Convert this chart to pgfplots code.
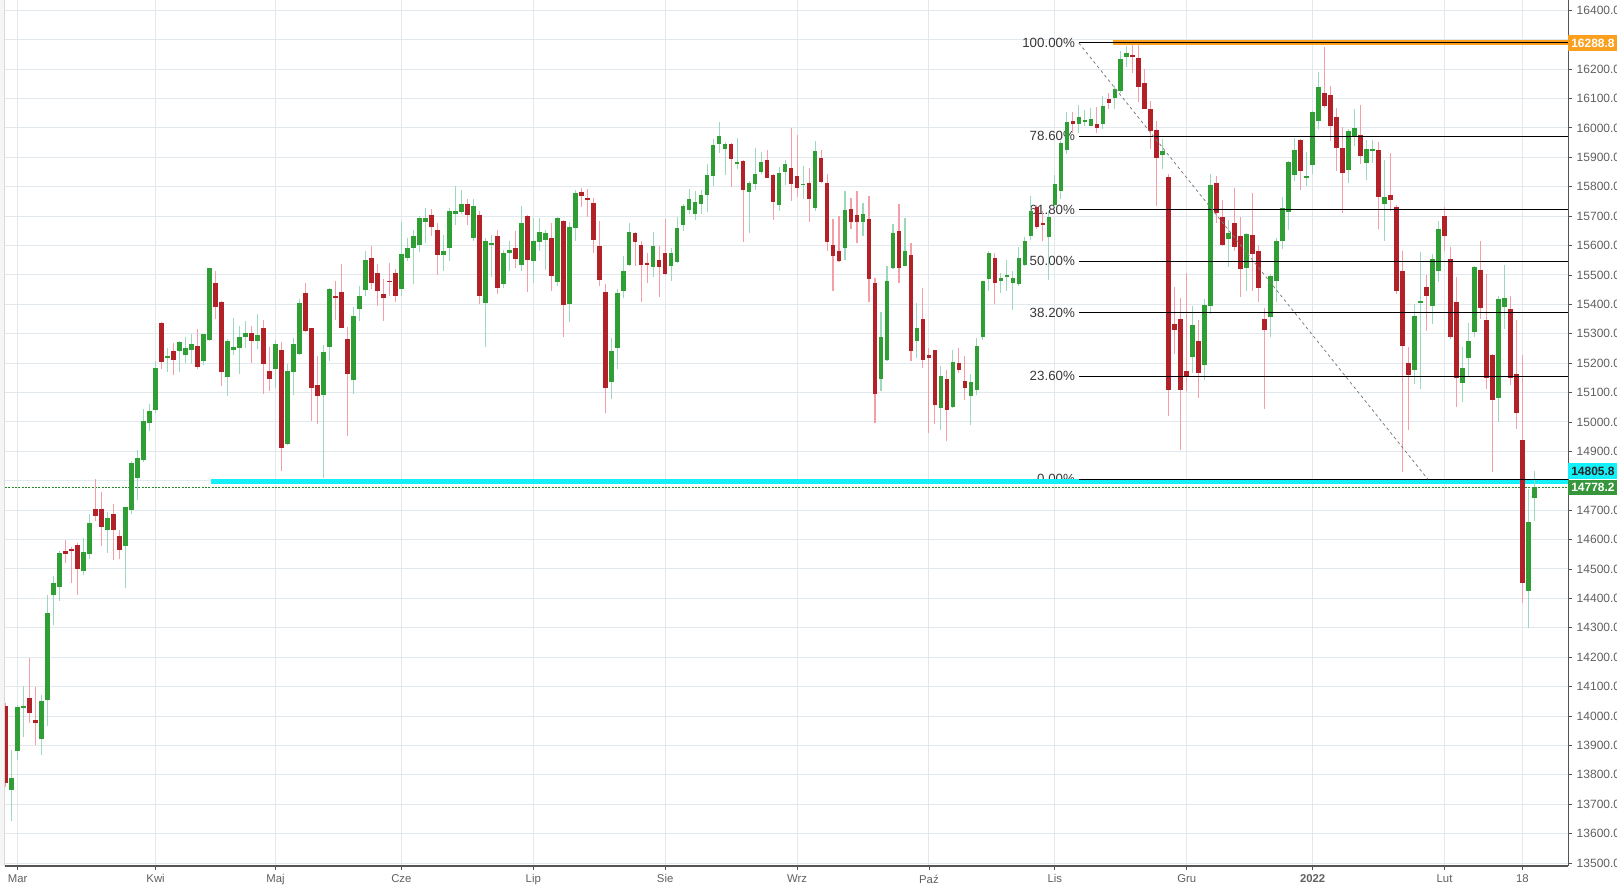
\documentclass[border=0pt]{standalone}
\usepackage{fontspec}
\setmainfont{Liberation Sans}
\usepackage{pgfplots}
\usepackage{pgfplotstable}
\pgfplotsset{compat=1.18}
\definecolor{cgreen}{RGB}{47,158,52}
\definecolor{cred}{RGB}{178,32,40}
\definecolor{wgreen}{RGB}{155,216,188}
\definecolor{wred}{RGB}{245,158,168}
\definecolor{gridc}{RGB}{225,232,238}
\definecolor{corange}{RGB}{250,160,30}
\definecolor{ccyan}{RGB}{20,240,250}
\definecolor{cprice}{RGB}{40,140,40}
\definecolor{cbox}{RGB}{55,150,60}
\definecolor{axc}{RGB}{85,85,85}
\definecolor{labc}{RGB}{95,95,95}
\definecolor{fibtxt}{RGB}{55,55,55}

\pgfplotstableread{
i o h l c
2 13748 13883 13643 13788
3 13880 14037 13849 14031
4 14028 14101 13927 14035
7 13923 14073 13866 14051
8 14056 14412 13965 14352
9 14413 14477 14309 14452
10 14438 14562 14390 14554
14 14494 14605 14478 14558
15 14550 14686 14534 14656
18 14631 14693 14556 14672
21 14578 14712 14434 14710
22 14701 14866 14687 14859
23 14808 14906 14735 14879
24 14870 15045 14863 15004
25 14998 15062 14968 15037
26 15042 15207 15029 15183
28 15218 15253 15170 15224
30 15240 15274 15170 15271
31 15228 15289 15201 15253
32 15245 15298 15198 15264
34 15209 15300 15193 15298
35 15278 15525 15274 15523
38 15152 15281 15089 15274
39 15244 15352 15227 15254
40 15252 15325 15163 15288
41 15289 15342 15252 15301
43 15274 15366 15248 15295
46 15180 15278 15116 15264
48 14926 15196 14923 15172
49 15170 15284 15093 15264
50 15231 15417 15229 15403
54 15092 15261 14808 15237
55 15255 15455 15206 15451
59 15143 15390 15096 15359
60 15384 15461 15342 15427
61 15448 15583 15428 15552
67 15451 15681 15430 15570
68 15559 15624 15546 15590
69 15591 15654 15469 15634
70 15601 15702 15577 15692
71 15679 15729 15608 15692
74 15567 15637 15513 15583
75 15591 15727 15547 15719
76 15706 15804 15669 15719
77 15713 15790 15706 15742
79 15625 15759 15615 15736
81 15404 15624 15255 15617
82 15604 15637 15493 15608
84 15469 15586 15455 15573
85 15573 15617 15513 15586
87 15533 15736 15513 15675
89 15547 15692 15472 15614
90 15611 15692 15580 15647
91 15620 15654 15516 15644
93 15476 15698 15462 15695
95 15401 15681 15340 15664
96 15659 15790 15615 15780
102 15137 15285 15079 15240
103 15252 15451 15181 15437
104 15445 15566 15421 15512
105 15533 15678 15530 15647
109 15526 15647 15493 15600
112 15530 15593 15479 15573
113 15543 15698 15540 15661
114 15669 15742 15648 15735
115 15720 15793 15709 15759
116 15709 15786 15686 15749
117 15740 15790 15706 15773
118 15771 15878 15713 15841
119 15835 15963 15804 15942
120 15946 16020 15915 15973
121 15929 15952 15841 15946
123 15878 15966 15861 15885
125 15783 15820 15644 15813
126 15810 15932 15790 15844
127 15851 15919 15844 15885
130 15739 15868 15718 15847
131 15851 15891 15807 15878
134 15806 15871 15759 15811
136 15729 15956 15718 15922
141 15590 15786 15552 15722
144 15681 15746 15634 15708
147 15146 15373 15105 15288
148 15210 15529 15208 15478
149 15522 15674 15519 15641
151 15532 15695 15529 15580
153 15274 15403 15217 15318
157 15047 15190 14973 15156
159 15051 15244 15049 15203
162 15088 15163 14990 15135
163 15108 15285 15091 15257
164 15288 15481 15278 15478
165 15485 15580 15447 15576
167 15481 15508 15437 15488
168 15495 15552 15444 15501
169 15474 15515 15380 15491
170 15468 15596 15464 15556
171 15534 15630 15530 15615
172 15634 15769 15620 15716
175 15630 15718 15484 15697
176 15738 15840 15731 15810
177 15786 15955 15758 15948
178 15925 16055 15912 16021
180 16013 16079 15984 16038
181 16022 16061 16005 16027
182 16008 16068 16005 16031
184 16014 16109 15995 16075
186 16100 16143 16066 16133
187 16126 16262 16119 16235
188 16242 16279 16208 16256
194 15908 15963 15861 15922
199 15220 15394 15166 15329
201 15193 15418 15142 15398
202 15395 15844 15368 15806
205 15623 15687 15528 15643
208 15525 15644 15446 15639
212 15358 15503 15290 15496
213 15480 15626 15409 15615
214 15617 15765 15589 15728
215 15715 15889 15654 15884
216 15841 15966 15821 15925
218 15831 15918 15804 15837
219 15875 16058 15845 16055
220 16025 16191 15998 16140
225 15858 15997 15814 15990
226 15971 16065 15940 16000
228 15882 15959 15824 15929
229 15920 15959 15882 15929
231 15740 15891 15617 15765
236 15178 15402 15130 15361
237 15405 15578 15113 15410
239 15396 15571 15332 15553
240 15512 15682 15475 15657
244 15134 15255 15069 15184
245 15216 15337 15156 15276
246 15305 15531 15289 15527
250 15083 15430 15001 15419
251 15391 15534 15316 15422
255 14424 14772 14300 14661
256 14741 14834 14663 14778.2
}\greentab

\pgfplotstableread{
i o h l c
1 14034 14045 13760 13772
5 14061 14199 13978 14011
6 13987 14099 13900 13978
11 14562 14599 14519 14552
12 14568 14574 14451 14562
13 14581 14589 14411 14500
16 14703 14805 14664 14681
17 14703 14761 14579 14644
19 14686 14720 14532 14631
20 14612 14632 14535 14565
27 15338 15340 15181 15204
29 15240 15268 15160 15212
33 15257 15316 15181 15187
36 15474 15515 15350 15391
37 15407 15413 15122 15170
42 15301 15325 15201 15274
44 15318 15346 15096 15197
45 15172 15254 15105 15145
47 15244 15271 14833 14912
51 15437 15471 15305 15308
52 15318 15320 15003 15116
53 15125 15223 14993 15089
56 15427 15478 15347 15421
57 15441 15536 15318 15320
58 15281 15322 14952 15163
62 15556 15597 15451 15471
63 15505 15536 15396 15447
64 15434 15485 15342 15420
65 15481 15542 15427 15476
66 15505 15519 15407 15427
72 15705 15726 15632 15662
73 15654 15675 15499 15567
78 15742 15759 15669 15705
80 15705 15719 15400 15428
83 15631 15654 15435 15455
86 15590 15651 15523 15554
88 15702 15705 15442 15550
92 15627 15675 15444 15495
94 15685 15688 15289 15398
97 15783 15797 15730 15767
98 15763 15793 15698 15757
99 15746 15763 15574 15618
100 15597 15685 15462 15482
101 15441 15468 15031 15116
106 15644 15646 15530 15611
107 15603 15617 15408 15533
108 15542 15573 15472 15533
110 15552 15600 15425 15526
111 15573 15691 15499 15503
122 15946 15950 15800 15895
124 15888 15890 15613 15790
128 15891 15925 15828 15830
129 15841 15843 15688 15749
132 15864 16000 15752 15810
133 15837 15976 15766 15796
135 15813 15864 15681 15759
137 15898 15925 15813 15817
138 15813 15844 15583 15611
139 15603 15691 15447 15563
140 15580 15702 15544 15546
142 15725 15763 15657 15681
143 15705 15786 15610 15681
145 15691 15769 15407 15485
146 15471 15488 14996 15095
150 15651 15742 15471 15525
152 15569 15607 15207 15240
154 15349 15454 15183 15210
155 15227 15251 14963 15218
156 15244 15246 14993 15057
158 15146 15176 14935 15040
160 15200 15251 15166 15176
161 15139 15224 15074 15115
166 15556 15576 15400 15471
173 15731 15738 15657 15664
174 15677 15716 15617 15670
179 16024 16055 15984 16015
183 16014 16072 15981 16001
185 16099 16119 16063 16085
189 16249 16288.8 16187 16240
190 16239 16288 16089 16140
191 16153 16201 16063 16065
192 16065 16092 15929 15990
193 15993 16024 15735 15898
195 15833 15844 15020 15108
196 15333 15459 15231 15312
197 15350 15421 14904 15108
198 15173 15506 15105 15152
200 15275 15346 15081 15166
203 15813 15837 15677 15712
204 15697 15755 15600 15603
206 15677 15796 15583 15596
207 15632 15697 15426 15521
209 15636 15779 15446 15572
210 15581 15602 15409 15457
211 15350 15387 15045 15313
217 15959 15963 15790 15852
221 16119 16276 16066 16076
222 16113 16143 15954 16008
223 16038 16068 15852 15933
224 15932 16004 15712 15848
227 15976 16079 15879 15906
230 15925 15953 15657 15766
232 15772 15915 15719 15756
233 15731 15738 15436 15446
234 15513 15581 14830 15259
235 15200 15255 14973 15160
238 15460 15501 15309 15430
241 15702 15731 15582 15631
242 15553 15596 15281 15289
243 15409 15493 15051 15148
247 15517 15614 15351 15389
248 15348 15504 15112 15151
249 15228 15231 14831 15073
252 15384 15430 15124 15151
253 15163 15348 14977 15029
254 14939 15228 14383 14454
}\redtab

\begin{document}
\begin{tikzpicture}
\path[use as bounding box] (-3.75pt,-15.75pt) rectangle (1209pt,649.5pt);
\fill[gray!8] (-3.75pt,0pt) rectangle (0pt,649.5pt);
\draw[gray!30, line width=0.5pt] (-0.3pt,0pt) -- (-0.3pt,649.5pt);
\begin{axis}[
  at={(0pt,0pt)}, anchor=south west,
  scale only axis, width=1172.25pt, height=649.5pt,
  xmin=0.883, xmax=261.6, ymin=13490, ymax=16435,
  axis x line*=bottom, axis y line*=right,
  axis line style={draw=axc, line width=0.8pt, -},
  xtick={3,26,46,67,89,111,133,155,176,198,219,241,254},
  xticklabels={Mar,Kwi,Maj,Cze,Lip,Sie,Wrz,Paź,Lis,Gru,\textbf{2022},Lut,18},
  ytick={13500,13600,13700,13800,13900,14000,14100,14200,14300,14400,14500,14600,14700,14900,15000,15100,15200,15300,15400,15500,15600,15700,15800,15900,16000,16100,16200,16400},
  extra y ticks={14800,16300},
  extra y tick labels={},
  extra y tick style={grid=major, major grid style={draw=gridc, line width=0.75pt}},
  scaled y ticks=false,
  yticklabel style={/pgf/number format/fixed, /pgf/number format/fixed zerofill,
    /pgf/number format/precision=1, /pgf/number format/1000 sep={},
    /pgf/number format/assume math mode=true, font=\fontsize{9}{10}\selectfont},
  xticklabel style={font=\fontsize{8.5}{10}\selectfont},
  tick label style={text=labc},
  tick align=outside, major tick length=3pt,
  tick style={draw=axc, line width=0.6pt},
  grid=major, major grid style={draw=gridc, line width=0.75pt},
  clip=true,
]
% fib labels (under candles)
\node[anchor=east, inner sep=0pt, text=fibtxt, font=\fontsize{10}{12}\selectfont] at (axis cs:179.4,16288.8) {100.00\%};
\node[anchor=east, inner sep=0pt, text=fibtxt, font=\fontsize{10}{12}\selectfont] at (axis cs:179.4,15971.4) {78.60\%};
\node[anchor=east, inner sep=0pt, text=fibtxt, font=\fontsize{10}{12}\selectfont] at (axis cs:179.4,15722.3) {61.80\%};
\node[anchor=east, inner sep=0pt, text=fibtxt, font=\fontsize{10}{12}\selectfont] at (axis cs:179.4,15547.3) {50.00\%};
\node[anchor=east, inner sep=0pt, text=fibtxt, font=\fontsize{10}{12}\selectfont] at (axis cs:179.4,15372.3) {38.20\%};
\node[anchor=east, inner sep=0pt, text=fibtxt, font=\fontsize{10}{12}\selectfont] at (axis cs:179.4,15155.8) {23.60\%};
\node[anchor=east, inner sep=0pt, text=fibtxt, font=\fontsize{10}{12}\selectfont] at (axis cs:179.4,14805.8) {0.00\%};

% current price dotted line
\addplot[cprice, line width=0.7pt, dash pattern=on 1.5pt off 1pt, forget plot] coordinates {(0.883,14778.2) (261.6,14778.2)};
% cyan support
\addplot[ccyan, line width=3.9pt, forget plot] coordinates {(35.3,14798) (261.6,14798)};

% wicks
\addplot[draw=none, mark=none, forget plot, error bars/.cd, y dir=both, y explicit, error mark=none,
  error bar style={draw=wgreen, line width=0.8pt}]
  table[x=i, y expr={(\thisrow{h}+\thisrow{l})/2}, y error expr={(\thisrow{h}-\thisrow{l})/2}] {\greentab};
\addplot[draw=none, mark=none, forget plot, error bars/.cd, y dir=both, y explicit, error mark=none,
  error bar style={draw=wred, line width=0.8pt}]
  table[x=i, y expr={(\thisrow{h}+\thisrow{l})/2}, y error expr={(\thisrow{h}-\thisrow{l})/2}] {\redtab};
% bodies
\addplot[draw=none, mark=none, forget plot, error bars/.cd, y dir=both, y explicit, error mark=none,
  error bar style={draw=cgreen, line width=3.45pt}]
  table[x=i, y expr={(\thisrow{o}+\thisrow{c})/2}, y error expr={(\thisrow{c}-\thisrow{o})/2}] {\greentab};
\addplot[draw=none, mark=none, forget plot, error bars/.cd, y dir=both, y explicit, error mark=none,
  error bar style={draw=cred, line width=3.45pt}]
  table[x=i, y expr={(\thisrow{o}+\thisrow{c})/2}, y error expr={(\thisrow{o}-\thisrow{c})/2}] {\redtab};

% fib lines
\addplot[black, line width=0.75pt, forget plot] coordinates {(180,15971.4) (261.6,15971.4)};
\addplot[black, line width=0.75pt, forget plot] coordinates {(180,15722.3) (261.6,15722.3)};
\addplot[black, line width=0.75pt, forget plot] coordinates {(180,15547.3) (261.6,15547.3)};
\addplot[black, line width=0.75pt, forget plot] coordinates {(180,15372.3) (261.6,15372.3)};
\addplot[black, line width=0.75pt, forget plot] coordinates {(180,15155.8) (261.6,15155.8)};
\addplot[black, line width=0.75pt, forget plot] coordinates {(180,14805.8) (261.6,14805.8)};
% orange resistance + 100% line
\addplot[corange, line width=3.5pt, forget plot] coordinates {(185.7,16289.5) (261.6,16289.5)};
\addplot[black, line width=0.75pt, forget plot] coordinates {(180,16288.8) (261.6,16288.8)};
% diagonal dashed
\addplot[gray, line width=0.6pt, dash pattern=on 2.2pt off 2.2pt, forget plot] coordinates {(180,16288.8) (238.2,14805.8)};

\coordinate (pO) at (axis cs:261.6,16288.8);
\coordinate (pC) at (axis cs:261.6,14833);
\coordinate (pG) at (axis cs:261.6,14776);
\end{axis}
\node[anchor=west, fill=corange, text=white, inner sep=0pt, minimum width=37pt, minimum height=12pt, font=\bfseries\fontsize{9}{10}\selectfont] at (pO) {16288.8};
\node[anchor=west, fill=ccyan, text=black!85, inner sep=0pt, minimum width=37pt, minimum height=11.5pt, font=\bfseries\fontsize{9}{10}\selectfont] at (pC) {14805.8};
\node[anchor=west, fill=cbox, text=white, inner sep=0pt, minimum width=37pt, minimum height=11.5pt, font=\bfseries\fontsize{9}{10}\selectfont] at (pG) {14778.2};
\end{tikzpicture}
\end{document}
